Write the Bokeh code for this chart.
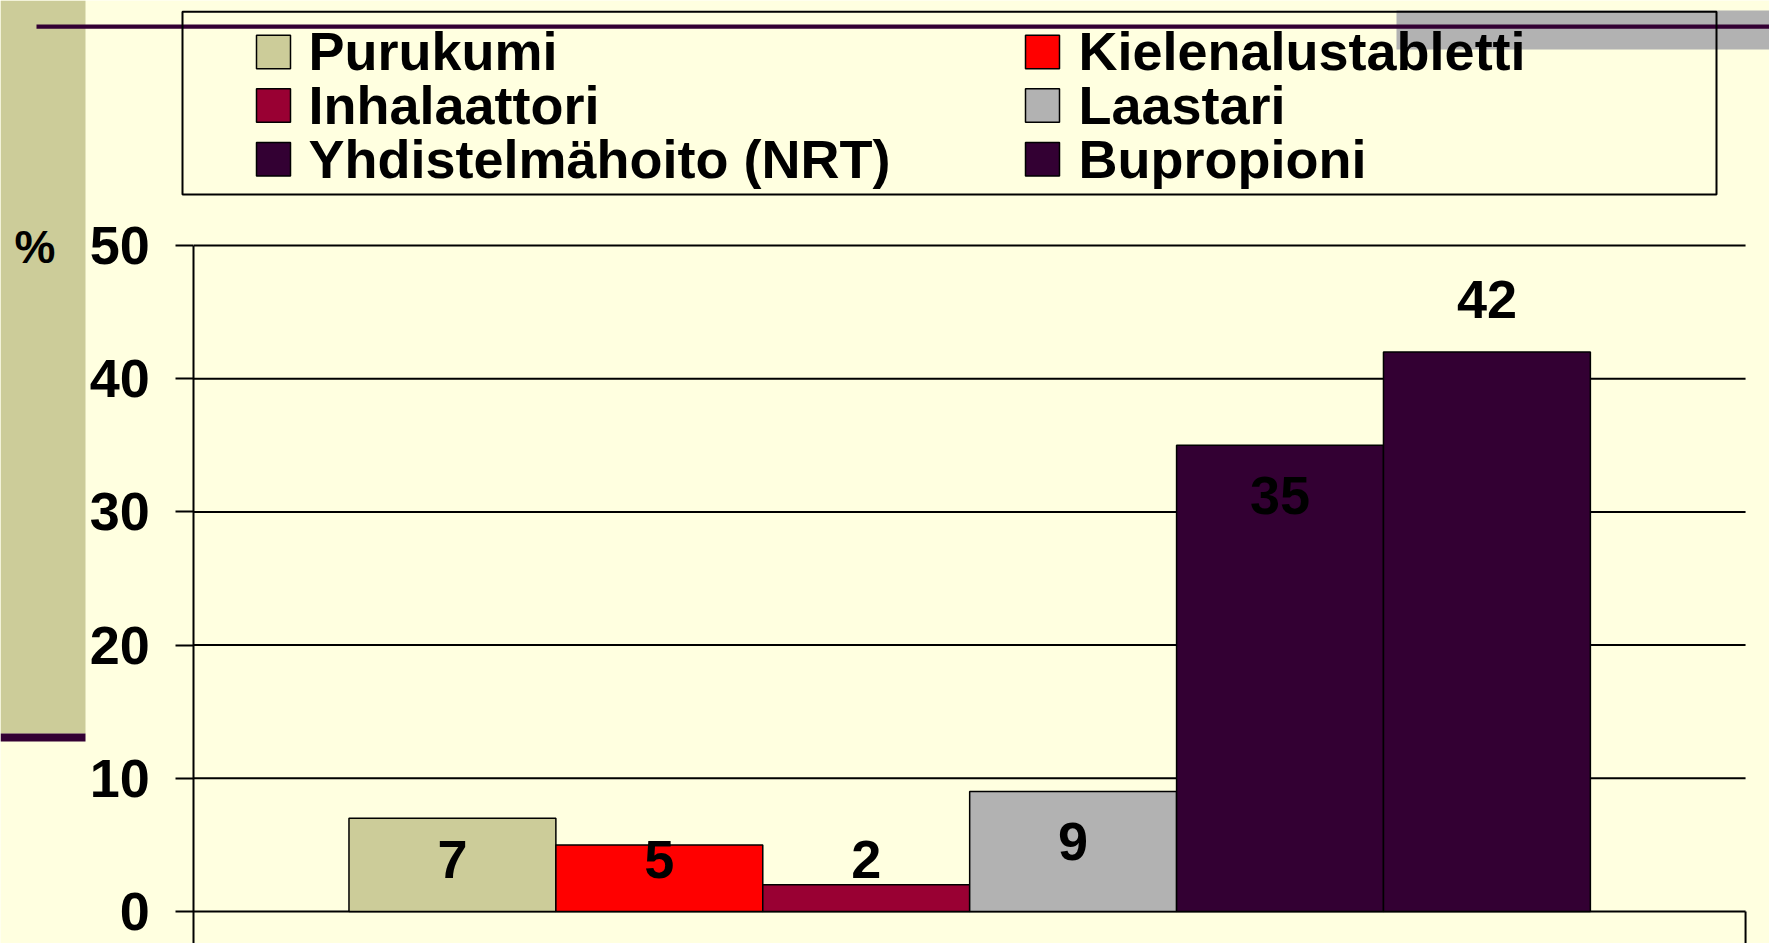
from bokeh.plotting import figure
from bokeh.models import Range1d, FixedTicker
from bokeh.core.properties import value
from bokeh.embed import file_html
from bokeh.resources import INLINE

# ---------------- data ----------------
categories = ["Purukumi", "Kielenalustabletti", "Inhalaattori", "Laastari",
              "Yhdistelmähoito (NRT)", "Bupropioni"]
values = [7, 5, 2, 9, 35, 42]
colors = ["#CCCC99", "#FF0000", "#990033", "#B2B2B2", "#330033", "#330033"]
y_ticks = [0, 10, 20, 30, 40, 50]
y_unit_label = "%"

# ---------------- layout constants (canvas px) ----------------
W, H = 1769, 943
AX_X = 193.3            # x pixel of the value axis (category axis start)
PX_PER_BAR = 206.9      # pixels per bar width
Y0_PX = 911.0           # pixel of value 0
PX_PER_UNIT = 13.32     # pixels per percent
GAP = 0.75              # Excel-like gap at both ends, in bar widths
N = len(values)
label_mid = [3.9, 3.9, 3.9, 5.26, 31.2, 45.97]   # value-label vertical centres (data units)

BG = "#FFFFE0"
FONT = "Liberation Sans"
DARK = "#330033"
TAN = "#CCCC99"


def dx(px):
    return (px - AX_X) / PX_PER_BAR


def dy(py):
    return (Y0_PX - py) / PX_PER_UNIT


X0, X1 = dx(0), dx(W)
Y0, Y1 = dy(H), dy(0)
CAT_END = N + 2 * GAP

p = figure(width=W, height=H, output_backend="svg", toolbar_location=None,
           x_range=Range1d(X0, X1), y_range=Range1d(Y0, Y1),
           x_axis_location=None,
           min_border=0, min_border_left=0, min_border_right=0,
           min_border_top=0, min_border_bottom=0)
p.background_fill_color = BG
p.border_fill_color = BG
p.outline_line_color = None
p.xgrid.visible = False
p.ygrid.visible = False

# ---------------- slide decorations ----------------
p.quad(left=[dx(0)], right=[dx(85)], top=[dy(0)], bottom=[dy(733)],
       fill_color=TAN, line_color=None)
p.quad(left=[dx(0)], right=[dx(85)], top=[dy(733)], bottom=[dy(741)],
       fill_color=DARK, line_color=None)
p.quad(left=[dx(1396)], right=[dx(W)], top=[dy(10)], bottom=[dy(49)],
       fill_color="#B2B2B2", line_color=None)
p.quad(left=[dx(36)], right=[dx(W)], top=[dy(24)], bottom=[dy(28.3)],
       fill_color=DARK, line_color=None)

# ---------------- legend ----------------
p.quad(left=[dx(182)], right=[dx(1716)], top=[dy(11.3)], bottom=[dy(194)],
       fill_color=None, line_color="black", line_width=2)
sw_x = [256, 1025]
txt_x = [308, 1078]
sw_top = [34.7, 88.3, 142.0]
txt_mid = [50.8, 104.4, 158.0]
lx, ly, sl, sr, st, sb = [], [], [], [], [], []
for i in range(len(categories)):
    r, c = divmod(i, 2)
    sl.append(dx(sw_x[c])); sr.append(dx(sw_x[c] + 34))
    st.append(dy(sw_top[r])); sb.append(dy(sw_top[r] + 33.5))
    lx.append(dx(txt_x[c])); ly.append(dy(txt_mid[r]))
p.quad(left=sl, right=sr, top=st, bottom=sb, fill_color=colors,
       line_color="black", line_width=1.5)
p.text(x=lx, y=ly, text=categories, text_align="left", text_baseline="middle",
       text_font=value(FONT), text_font_style="bold", text_font_size="54px",
       text_color="black")

# unit label
p.text(x=[dx(34.5)], y=[dy(246.5)], text=[y_unit_label], text_align="center",
       text_baseline="middle", text_font=value(FONT), text_font_style="bold",
       text_font_size="46px", text_color="black")

# ---------------- value axis and grid ----------------
ax = p.yaxis[0]
ax.fixed_location = 0
ax.bounds = (Y0, max(y_ticks))
ax.ticker = FixedTicker(ticks=y_ticks)
ax.axis_line_color = "black"
ax.axis_line_width = 2
ax.major_tick_line_color = "black"
ax.major_tick_line_width = 2
ax.major_tick_out = 18
ax.major_tick_in = 0
ax.minor_tick_line_color = None
ax.major_label_text_font = FONT
ax.major_label_text_font_style = "bold"
ax.major_label_text_font_size = "54px"
ax.major_label_text_color = "black"
ax.major_label_standoff = 26

p.segment(x0=[0] * len(y_ticks), x1=[CAT_END] * len(y_ticks),
          y0=y_ticks, y1=y_ticks, line_color="black", line_width=2)

# ---------------- bars ----------------
centers = [GAP + i + 0.5 for i in range(N)]
p.vbar(x=centers, top=values, bottom=0, width=1.0, fill_color=colors,
       line_color="black", line_width=1.5)

# right end tick of the category axis
p.segment(x0=[CAT_END], y0=[0], x1=[CAT_END], y1=[Y0],
          line_color="black", line_width=2)

p.text(x=centers, y=label_mid, text=[str(v) for v in values],
       text_align="center", text_baseline="middle",
       text_font=value(FONT), text_font_style="bold",
       text_font_size="54px", text_color="black")

open("out.html", "w").write(file_html(p, INLINE))
